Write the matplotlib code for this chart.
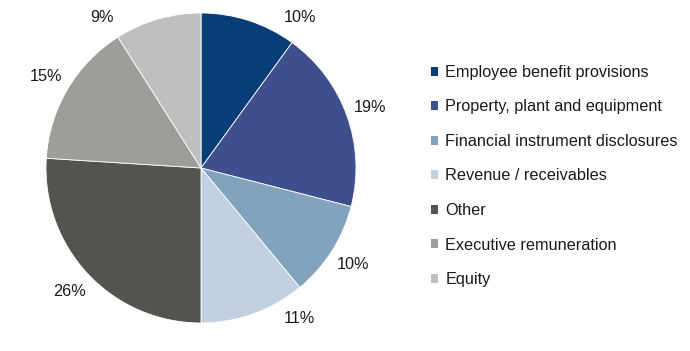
import numpy as np
import matplotlib
matplotlib.use("Agg")
import matplotlib.pyplot as plt
from matplotlib.patches import Patch

plt.rcParams['font.family'] = ['Liberation Sans', 'DejaVu Sans']

categories = ["Employee benefit provisions", "Property, plant and equipment",
              "Financial instrument disclosures", "Revenue / receivables",
              "Other", "Executive remuneration", "Equity"]
values = [10, 19, 10, 11, 26, 15, 9]
pct_labels = ["10%", "19%", "10%", "11%", "26%", "15%", "9%"]
colors = ["#083d77", "#3f4e8c", "#82a3be", "#c2d1e0", "#53534f", "#9d9d99", "#bfbfbf"]

W, H = 690, 351
fig = plt.figure(figsize=(W / 100, H / 100), dpi=100)
cx, cy, r = 201, 168, 155
ax = fig.add_axes([(cx - r) / W, (H - cy - r) / H, 2 * r / W, 2 * r / H])

wedges, _ = ax.pie(values, colors=colors, startangle=90, counterclock=False,
                   wedgeprops=dict(linewidth=0.6, edgecolor='white'))
ax.set_xlim(-1, 1)
ax.set_ylim(-1, 1)
ax.set_aspect('equal')

# outside-end labels, kept inside the figure vertically
dist = 1.16
ymax = 0.97
for w, lab in zip(wedges, pct_labels):
    ang = np.deg2rad((w.theta1 + w.theta2) / 2)
    x, y = dist * np.cos(ang), dist * np.sin(ang)
    if abs(y) > ymax:
        y = np.sign(y) * ymax
        x = np.sign(x) * np.sqrt(dist ** 2 - ymax ** 2)
    ax.text(x, y, lab, ha='center', va='center', fontsize=11.7,
            color='#1a1a1a', clip_on=False)

handles = [Patch(facecolor=c, edgecolor='none') for c in colors]
leg = fig.legend(handles, categories, loc='upper left',
                 bbox_to_anchor=(431 / W, 1 - 65 / H), frameon=False,
                 fontsize=11.7, handlelength=0.45, handleheight=0.45,
                 handletextpad=0.42, labelspacing=1.2, borderpad=0,
                 borderaxespad=0)
for t in leg.get_texts():
    t.set_color('#1a1a1a')

fig.savefig("out.png", dpi=100)
